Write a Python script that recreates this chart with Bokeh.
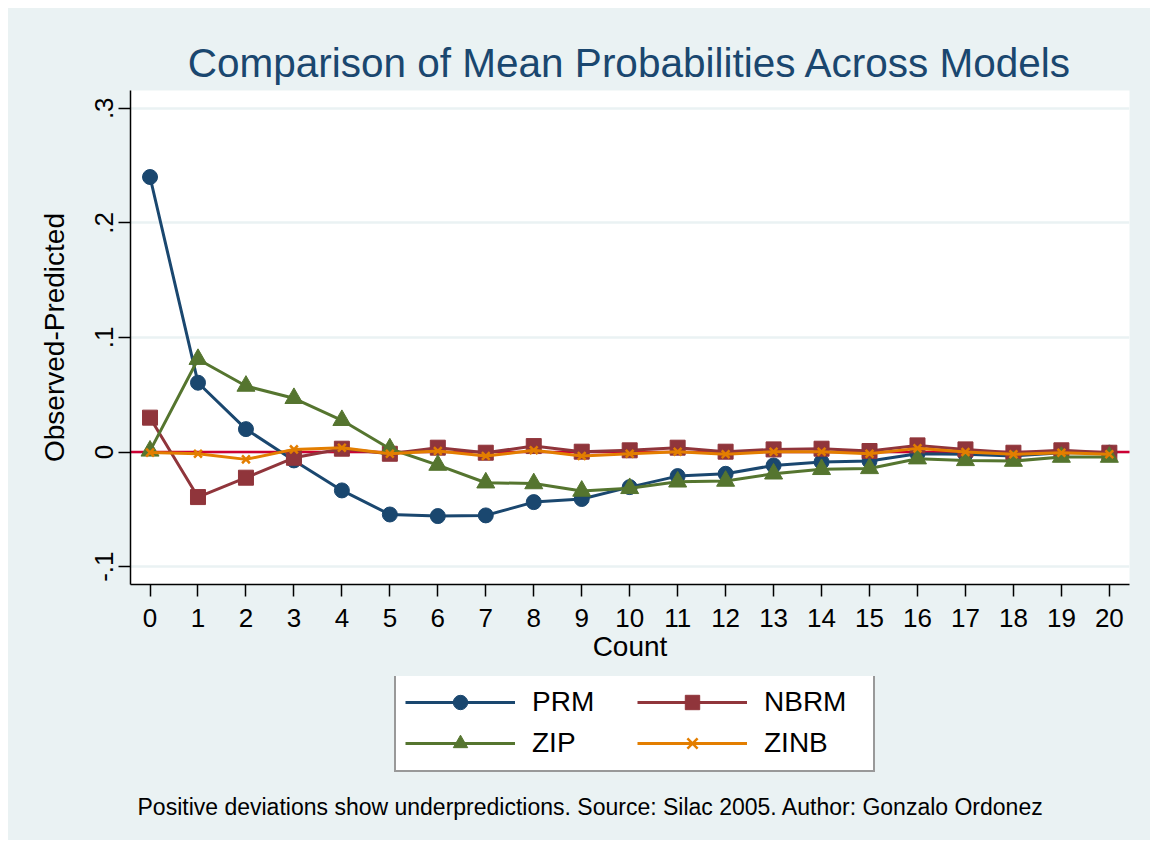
from bokeh.plotting import figure
from bokeh.layouts import column
from bokeh.models import (Range1d, FixedTicker, Legend, LegendItem, Label)
from bokeh.embed import file_html
from bokeh.resources import INLINE

# ---- data ----
counts = list(range(0, 21))
prm = [0.240, 0.0605, 0.020, -0.0073, -0.0335, -0.0545, -0.0559, -0.0553, -0.0437, -0.041,
       -0.0306, -0.021, -0.019, -0.0117, -0.0087, -0.0079, -0.0015, -0.002, -0.0035, -0.0006, -0.0006]
nbrm = [0.030, -0.0393, -0.0224, -0.005, 0.0029, -0.0015, 0.0038, -0.0006, 0.0052, 0.0003,
        0.0015, 0.0038, 0.0003, 0.0023, 0.0029, 0.0009, 0.0058, 0.0023, -0.0006, 0.0015, -0.0006]
zip_ = [0.001, 0.081, 0.0576, 0.0469, 0.0277, 0.0029, -0.0114, -0.0268, -0.0275, -0.034,
        -0.0317, -0.026, -0.0253, -0.019, -0.0151, -0.0143, -0.0058, -0.0073, -0.0079, -0.0044, -0.0044]
zinb = [-0.0005, -0.0015, -0.0064, 0.0023, 0.0038, -0.0015, 0.0009, -0.0035, 0.0015, -0.0035,
        -0.0015, 0.0003, -0.002, 0.0003, 0.0003, -0.0015, 0.0032, 0.0, -0.002, -0.0006, -0.002]
zero_ref = [0.0, 0.0]
zero_x = [-1, 21]

y_ticks = [-0.1, 0.0, 0.1, 0.2, 0.3]
y_tick_labels = ["-.1", "0", ".1", ".2", ".3"]
x_ticks = counts
x_tick_labels = [str(c) for c in counts]

series_names = ["PRM", "NBRM", "ZIP", "ZINB"]
title_text = "Comparison of Mean Probabilities Across Models"
note_text = "Positive deviations show underpredictions. Source: Silac 2005. Author: Gonzalo Ordonez"

FONT = "Liberation Sans"
BG = "#eaf2f3"
NAVY = "#1a476f"
MAROON = "#90353b"
GREEN = "#55752f"
ORANGE = "#e37e00"
RED = "#cc0033"

W = 1142
p = figure(width=W, height=668, output_backend="svg", toolbar_location=None,
           x_range=Range1d(-0.407, 20.42), y_range=Range1d(-0.1156, 0.3155),
           min_border_left=122, min_border_right=21, min_border_top=82, min_border_bottom=92)
p.background_fill_color = "white"
p.border_fill_color = BG
p.outline_line_color = None

# title
p.title.text = title_text
p.title.text_font = FONT
p.title.text_font_size = "40.5px"
p.title.text_font_style = "normal"
p.title.text_color = NAVY
p.title.align = "center"
p.title.standoff = 9

# axes
p.xaxis.ticker = FixedTicker(ticks=x_ticks)
p.xaxis.major_label_overrides = {t: l for t, l in zip(x_ticks, x_tick_labels)}
p.yaxis.ticker = FixedTicker(ticks=y_ticks)
p.yaxis.major_label_overrides = {t: l for t, l in zip(y_ticks, y_tick_labels)}
for ax in (p.xaxis, p.yaxis):
    ax.axis_line_color = "black"
    ax.axis_line_width = 1.5
    ax.major_tick_line_color = "black"
    ax.major_tick_line_width = 1.5
    ax.major_tick_out = 12
    ax.major_tick_in = 0
    ax.minor_tick_out = 0
    ax.minor_tick_in = 0
    ax.major_label_text_font = FONT
    ax.major_label_text_font_size = "26px"
    ax.major_label_text_color = "black"
    ax.axis_label_text_font = FONT
    ax.axis_label_text_font_size = "28px"
    ax.axis_label_text_font_style = "normal"
    ax.axis_label_text_color = "black"
p.xaxis.axis_label = "Count"
p.yaxis.axis_label = "Observed-Predicted"
p.xaxis.major_label_standoff = 12
p.xaxis.axis_label_standoff = 1
p.yaxis.major_label_orientation = "vertical"
p.yaxis.major_label_standoff = 5
p.yaxis.axis_label_standoff = 23

p.xgrid.grid_line_color = None
p.ygrid.grid_line_color = BG
p.ygrid.grid_line_width = 2.5

# zero reference line
p.line(zero_x, zero_ref, line_color=RED, line_width=2.5)

lw = 3
styles = [
    (prm, NAVY, "circle", 15),
    (nbrm, MAROON, "square", 15),
    (zip_, GREEN, "triangle", 18),
    (zinb, ORANGE, "x", 11),
]
for ys, col, mk, sz in styles:
    p.line(counts, ys, line_color=col, line_width=lw)
    if mk == "x":
        p.scatter(counts, ys, marker=mk, size=sz, line_color=col, line_width=2.5)
    else:
        p.scatter(counts, ys, marker=mk, size=sz, fill_color=col, line_color=col)

# ---- lower panel: legend + note (frame aligned with the plot frame above) ----
H2 = 164
q = figure(width=W, height=H2, output_backend="svg", toolbar_location=None,
           x_range=Range1d(0, 999), y_range=Range1d(0, H2),
           x_axis_type=None, y_axis_type=None,
           min_border_left=0, min_border_right=0, min_border_top=0, min_border_bottom=0)
q.background_fill_color = BG
q.border_fill_color = BG
q.outline_line_color = None
q.xgrid.grid_line_color = None
q.ygrid.grid_line_color = None

items = {}
for name, (ys, col, mk, sz) in zip(series_names, styles):
    lr = q.line(counts, ys, line_color=col, line_width=lw, visible=False)
    if mk == "x":
        mr = q.scatter(counts, ys, marker=mk, size=sz, line_color=col, line_width=2.5, visible=False)
    else:
        mr = q.scatter(counts, ys, marker=mk, size=sz, fill_color=col, line_color=col, visible=False)
    items[name] = LegendItem(label=name, renderers=[lr, mr])

legend = Legend(items=[items["PRM"], items["ZIP"], items["NBRM"], items["ZINB"]],
                location=(264, 68), ncols=2)
legend.glyph_width = 110
legend.glyph_height = 36
legend.label_standoff = 17
legend.label_width = 100
legend.spacing = 5
legend.padding = 9
legend.margin = 0
legend.label_text_font = FONT
legend.label_text_font_size = "28px"
legend.label_text_color = "black"
legend.label_text_baseline = "middle"
legend.border_line_color = "#333333"
legend.border_line_width = 2
legend.background_fill_color = "white"
legend.background_fill_alpha = 1
legend.inactive_fill_alpha = 0
q.add_layout(legend, "center")

note = Label(x=7, y=33.3, x_units="screen", y_units="screen", text=note_text,
             text_font=FONT, text_font_size="23px", text_color="black",
             text_align="left", text_baseline="alphabetic")
q.add_layout(note)

layout = column(p, q, spacing=0, margin=(8, 0, 0, 8), styles={"background-color": BG})
open("out.html", "w").write(file_html(layout, INLINE))
